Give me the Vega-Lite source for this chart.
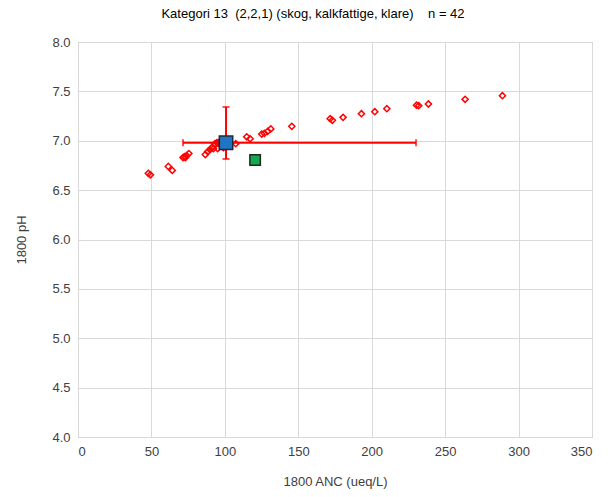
{
  "$schema": "https://vega.github.io/schema/vega-lite/v6.json",
  "width": 514,
  "height": 395,
  "autosize": {"type": "none"},
  "padding": {"left": 78, "top": 42, "right": 16, "bottom": 60},
  "background": "white",
  "title": {
    "text": "Kategori 13 \u00a0(2,2,1) (skog, kalkfattige, klare) \u00a0\u00a0 n = 42",
    "font": "Liberation Sans",
    "fontSize": 13,
    "fontWeight": "normal",
    "color": "#000000",
    "offset": 15,
    "dx": -22
  },
  "config": {
    "view": {"stroke": "#8c8c8c", "strokeWidth": 1},
    "axis": {
      "labelFont": "Liberation Sans",
      "labelFontSize": 13,
      "labelColor": "#404040",
      "titleFont": "Liberation Sans",
      "titleFontSize": 13,
      "titleFontWeight": "normal",
      "titleColor": "#404040",
      "gridColor": "#d9d9d9",
      "gridWidth": 1,
      "domain": false,
      "ticks": false
    }
  },
  "datasets": {
    "points": [
      {"anc": 47.9, "ph": 6.67},
      {"anc": 49.3, "ph": 6.655},
      {"anc": 61.5, "ph": 6.74},
      {"anc": 64.2, "ph": 6.70},
      {"anc": 71.5, "ph": 6.83},
      {"anc": 72.5, "ph": 6.84},
      {"anc": 73.2, "ph": 6.83},
      {"anc": 74.0, "ph": 6.85},
      {"anc": 75.5, "ph": 6.87},
      {"anc": 86.7, "ph": 6.86},
      {"anc": 88.3, "ph": 6.89},
      {"anc": 89.9, "ph": 6.91},
      {"anc": 91.0, "ph": 6.93},
      {"anc": 92.2, "ph": 6.92},
      {"anc": 93.3, "ph": 6.97},
      {"anc": 94.5, "ph": 6.98},
      {"anc": 95.6, "ph": 6.98},
      {"anc": 97.0, "ph": 6.99},
      {"anc": 95.1, "ph": 6.92},
      {"anc": 99.0, "ph": 6.93},
      {"anc": 100.0, "ph": 6.97},
      {"anc": 102.0, "ph": 7.0},
      {"anc": 98.0, "ph": 6.95},
      {"anc": 107.4, "ph": 6.97},
      {"anc": 114.9, "ph": 7.04},
      {"anc": 117.2, "ph": 7.02},
      {"anc": 125.1, "ph": 7.068},
      {"anc": 126.9, "ph": 7.075},
      {"anc": 129.2, "ph": 7.096},
      {"anc": 131.3, "ph": 7.12},
      {"anc": 145.6, "ph": 7.146},
      {"anc": 171.7, "ph": 7.223},
      {"anc": 173.2, "ph": 7.207},
      {"anc": 180.5, "ph": 7.237},
      {"anc": 193.0, "ph": 7.274},
      {"anc": 202.1, "ph": 7.294},
      {"anc": 210.3, "ph": 7.325},
      {"anc": 230.5, "ph": 7.36},
      {"anc": 232.0, "ph": 7.355},
      {"anc": 238.6, "ph": 7.372},
      {"anc": 263.6, "ph": 7.42},
      {"anc": 289.0, "ph": 7.456}
    ],
    "mean": [
      {"anc": 100.8, "ph": 6.98, "anclo": 71.5, "anchi": 230.2, "phlo": 6.815, "phhi": 7.342}
    ],
    "obs": [
      {"anc": 120.6, "ph": 6.805}
    ]
  },
  "layer": [
    {
      "data": {"name": "points"},
      "mark": {"type": "point", "shape": "diamond", "filled": false, "color": "#ff0000", "strokeWidth": 1.5, "size": 38, "opacity": 1},
      "encoding": {
        "x": {"field": "anc", "type": "quantitative", "scale": {"domain": [0, 350], "nice": false}, "axis": {"values": [0, 50, 100, 150, 200, 250, 300, 350], "title": "1800 ANC (ueq/L)", "labelPadding": 8, "titlePadding": 17}},
        "y": {"field": "ph", "type": "quantitative", "scale": {"domain": [4, 8], "nice": false, "zero": false}, "axis": {"values": [4, 4.5, 5, 5.5, 6, 6.5, 7, 7.5, 8], "format": ".1f", "title": "1800 pH", "labelPadding": 8, "titlePadding": 23}}
      }
    },
    {
      "data": {"name": "mean"},
      "mark": {"type": "rule", "color": "#ff0000", "strokeWidth": 2},
      "encoding": {
        "x": {"field": "anclo", "type": "quantitative"},
        "x2": {"field": "anchi"},
        "y": {"field": "ph", "type": "quantitative"}
      }
    },
    {
      "data": {"name": "mean"},
      "mark": {"type": "rule", "color": "#ff0000", "strokeWidth": 2},
      "encoding": {
        "x": {"field": "anc", "type": "quantitative"},
        "y": {"field": "phlo", "type": "quantitative"},
        "y2": {"field": "phhi"}
      }
    },
    {
      "data": {"name": "mean"},
      "mark": {"type": "tick", "orient": "vertical", "color": "#ff0000", "thickness": 2, "size": 7},
      "encoding": {
        "x": {"field": "anclo", "type": "quantitative"},
        "y": {"field": "ph", "type": "quantitative"}
      }
    },
    {
      "data": {"name": "mean"},
      "mark": {"type": "tick", "orient": "vertical", "color": "#ff0000", "thickness": 2, "size": 7},
      "encoding": {
        "x": {"field": "anchi", "type": "quantitative"},
        "y": {"field": "ph", "type": "quantitative"}
      }
    },
    {
      "data": {"name": "mean"},
      "mark": {"type": "tick", "orient": "horizontal", "color": "#ff0000", "thickness": 2, "size": 7},
      "encoding": {
        "x": {"field": "anc", "type": "quantitative"},
        "y": {"field": "phlo", "type": "quantitative"}
      }
    },
    {
      "data": {"name": "mean"},
      "mark": {"type": "tick", "orient": "horizontal", "color": "#ff0000", "thickness": 2, "size": 7},
      "encoding": {
        "x": {"field": "anc", "type": "quantitative"},
        "y": {"field": "phhi", "type": "quantitative"}
      }
    },
    {
      "data": {"name": "mean"},
      "mark": {"type": "square", "filled": true, "fill": "#1f74c4", "stroke": "#1c2b3c", "strokeWidth": 1.5, "size": 180, "opacity": 1},
      "encoding": {
        "x": {"field": "anc", "type": "quantitative"},
        "y": {"field": "ph", "type": "quantitative"}
      }
    },
    {
      "data": {"name": "obs"},
      "mark": {"type": "square", "filled": true, "fill": "#14a850", "stroke": "#1c2b1c", "strokeWidth": 1.5, "size": 110, "opacity": 1},
      "encoding": {
        "x": {"field": "anc", "type": "quantitative"},
        "y": {"field": "ph", "type": "quantitative"}
      }
    }
  ]
}
